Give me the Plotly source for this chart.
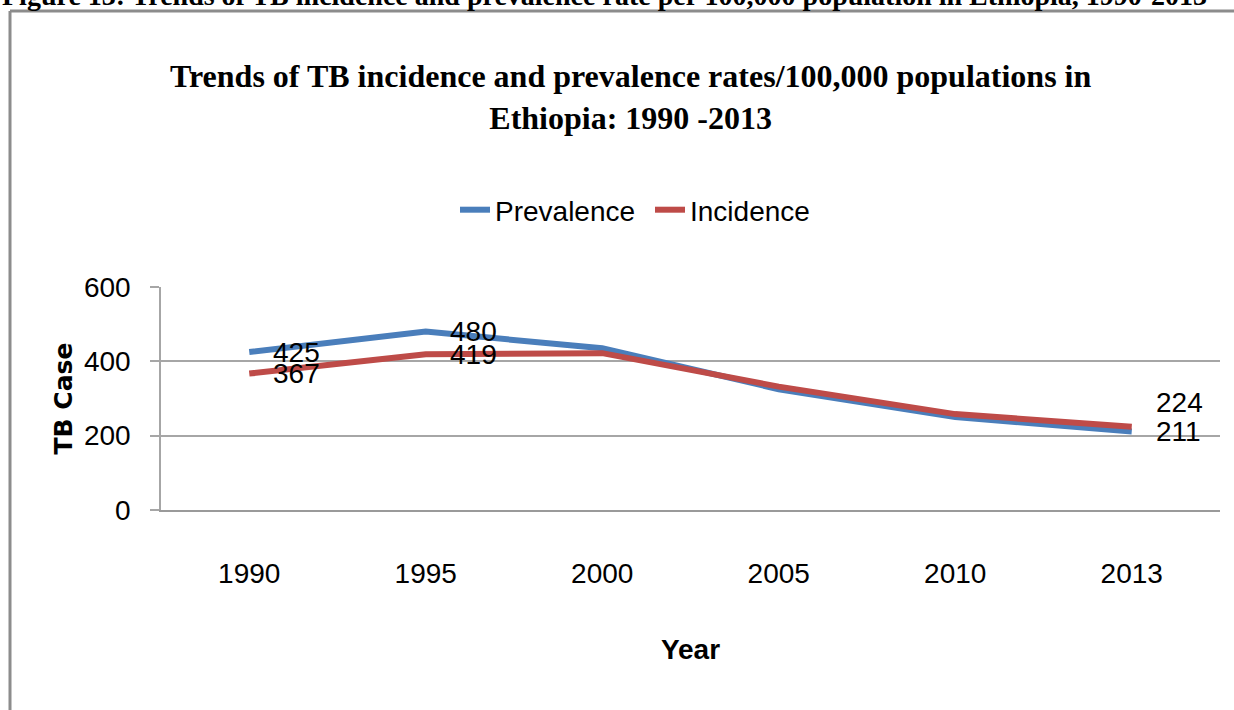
import plotly.graph_objects as go

years = ["1990", "1995", "2000", "2005", "2010", "2013"]
prevalence = [425, 480, 435, 325, 250, 211]
incidence = [367, 419, 422, 332, 258, 224]

# which points carry a data label: (index, vertical pixel shift)
prev_labels = [(0, 0), (1, 0), (5, 0)]
inc_labels = [(0, 0), (1, 0), (5, 24)]

NARROW = "Liberation Sans Narrow, Liberation Sans, Arial, sans-serif"
SERIF = "Liberation Serif, Times New Roman, serif"

BLUE = "#4A7EBB"
RED = "#BE4B48"

fig = go.Figure()
fig.add_trace(go.Scatter(x=years, y=prevalence, mode="lines", name="Prevalence",
                         line=dict(color=BLUE, width=6)))
fig.add_trace(go.Scatter(x=years, y=incidence, mode="lines", name="Incidence",
                         line=dict(color=RED, width=6)))

annotations = []
for idx, ys in prev_labels:
    annotations.append(dict(x=idx, y=prevalence[idx], xref="x", yref="y",
                            text=str(prevalence[idx]), showarrow=False,
                            xanchor="left", yanchor="middle", xshift=22, yshift=ys,
                            font=dict(family=NARROW, size=28, color="black")))
for idx, ys in inc_labels:
    annotations.append(dict(x=idx, y=incidence[idx], xref="x", yref="y",
                            text=str(incidence[idx]), showarrow=False,
                            xanchor="left", yanchor="middle", xshift=22, yshift=ys,
                            font=dict(family=NARROW, size=28, color="black")))

# layout geometry (pixels)
L, R, T, B = 161, 14, 287, 200
W, H = 1234, 710
PW, PH = W - L - R, H - T - B


def px_x(px):
    return (px - L) / PW


def px_y(py):
    return 1 - (py - T) / PH


annotations.append(dict(xref="paper", yref="paper", x=px_x(630), y=px_y(97),
                        text="<b>Trends of TB incidence and prevalence rates/100,000 populations in<br>Ethiopia: 1990 -2013</b>",
                        showarrow=False, xanchor="center", yanchor="middle",
                        font=dict(family=SERIF, size=32, color="black")))
annotations.append(dict(xref="paper", yref="paper", x=px_x(0), y=px_y(13),
                        text="<b>Figure 13: Trends of TB incidence and prevalence rate per 100,000 population in Ethiopia, 1990-2013</b>",
                        showarrow=False, xanchor="left", yanchor="bottom",
                        font=dict(family=SERIF, size=28, color="black")))

shapes = [
    dict(type="line", xref="paper", yref="paper", x0=px_x(10), x1=px_x(1240),
         y0=px_y(11), y1=px_y(11), line=dict(color="#8c8c8c", width=3)),
    dict(type="line", xref="paper", yref="paper", x0=px_x(10), x1=px_x(10),
         y0=px_y(11), y1=px_y(715), line=dict(color="#8c8c8c", width=3)),
]

fig.update_layout(
    width=W, height=H,
    margin=dict(l=L, r=R, t=T, b=B),
    paper_bgcolor="white", plot_bgcolor="white",
    showlegend=True,
    legend=dict(orientation="h", x=px_x(650), y=px_y(210), xanchor="center", yanchor="middle",
                font=dict(family=NARROW, size=28, color="black"), bgcolor="rgba(0,0,0,0)",
                entrywidth=150, entrywidthmode="pixels"),
    annotations=annotations,
    shapes=shapes,
    xaxis=dict(type="category", range=[-0.5, 5.5], showgrid=False,
               showline=True, linecolor="#9a9a9a", linewidth=2,
               ticks="", ticklabelstandoff=37,
               tickfont=dict(family=NARROW, size=28, color="black"),
               title=dict(text="<b>Year</b>", font=dict(family=NARROW, size=28, color="black"), standoff=52)),
    yaxis=dict(range=[0, 600], tickvals=[0, 200, 400, 600], showgrid=True,
               gridcolor="#a6a6a6", gridwidth=1.5, zeroline=False,
               showline=True, linecolor="#a6a6a6", linewidth=1.5,
               ticks="outside", ticklen=9, tickcolor="#a6a6a6", tickwidth=1.5,
               ticklabelstandoff=14,
               tickfont=dict(family=NARROW, size=28, color="black"),
               title=dict(text="<b>TB Case</b>", font=dict(family="DejaVu Sans, sans-serif", size=25, color="black"), standoff=4)),
)

fig.write_html("out.html")
